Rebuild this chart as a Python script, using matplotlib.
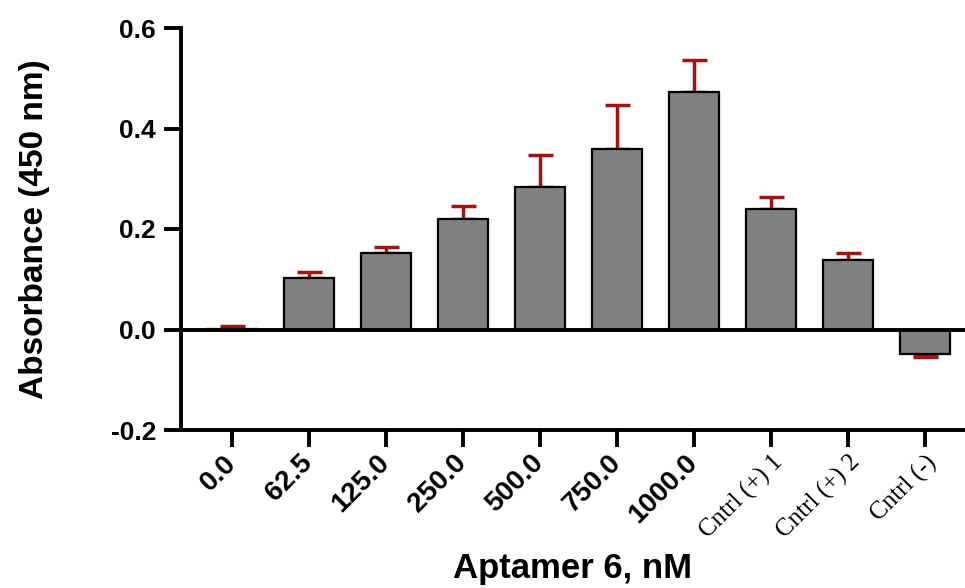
import numpy as np
import matplotlib.pyplot as plt
from matplotlib.transforms import ScaledTranslation

labels = ["0.0", "62.5", "125.0", "250.0", "500.0", "750.0", "1000.0",
          "Cntrl (+) 1", "Cntrl (+) 2", "Cntrl (-)"]
means = [0.001, 0.102, 0.152, 0.219, 0.283, 0.359, 0.472, 0.239, 0.138, -0.048]
errs = [0.005, 0.013, 0.013, 0.026, 0.064, 0.087, 0.065, 0.024, 0.014, 0.006]

plt.rcParams['font.family'] = ['Liberation Sans', 'DejaVu Sans']

fig = plt.figure(figsize=(9.65, 5.88), dpi=100)
ax = fig.add_axes([181/965, 1-430/588, 1-181/965, (430-28)/588])

x = np.arange(len(labels))
ax.bar(x, means, width=0.65, color='#808080', edgecolor='black', linewidth=1.6, zorder=2)

# one-sided error bars, pointing away from zero
lower = [e if m < 0 else 0 for m, e in zip(means, errs)]
upper = [0 if m < 0 else e for m, e in zip(means, errs)]
ax.errorbar(x, means, yerr=[lower, upper], fmt='none', ecolor='#a01414',
            elinewidth=2.5, capsize=9, capthick=2.5, zorder=1)

ax.axhline(0, color='black', linewidth=2.8, zorder=3)

ax.set_xlim(-0.66, 9.52)
ax.set_ylim(-0.2, 0.6)
ax.set_yticks([-0.2, 0.0, 0.2, 0.4, 0.6])
ax.set_yticklabels(["-0.2", "0.0", "0.2", "0.4", "0.6"])
ax.spines['top'].set_visible(False)
ax.spines['right'].set_visible(False)
for s in ['left', 'bottom']:
    ax.spines[s].set_linewidth(2.8)
ax.tick_params(axis='both', width=2.8, length=12, labelsize=19)
ax.tick_params(axis='y', pad=6)
ax.tick_params(axis='x', pad=9)
for t in ax.get_yticklabels():
    t.set_fontweight('bold')

ax.set_xticks(x)
ax.set_xticklabels(labels, rotation=45, ha='right', va='center', rotation_mode='anchor')
shift = ScaledTranslation(6/72, 0, fig.dpi_scale_trans)
for i, t in enumerate(ax.get_xticklabels()):
    if labels[i].startswith("Cntrl"):
        t.set_family(['Liberation Serif', 'DejaVu Serif'])
        t.set_fontsize(18)
        t.set_transform(t.get_transform() + shift)
    else:
        t.set_fontweight('bold')
        t.set_fontsize(20)

ax.set_ylabel("Absorbance (450 nm)", fontsize=24, fontweight='bold', labelpad=44)
ax.set_xlabel("Aptamer 6, nM", fontsize=25, fontweight='bold', labelpad=6)

fig.savefig("out.png", dpi=100)
